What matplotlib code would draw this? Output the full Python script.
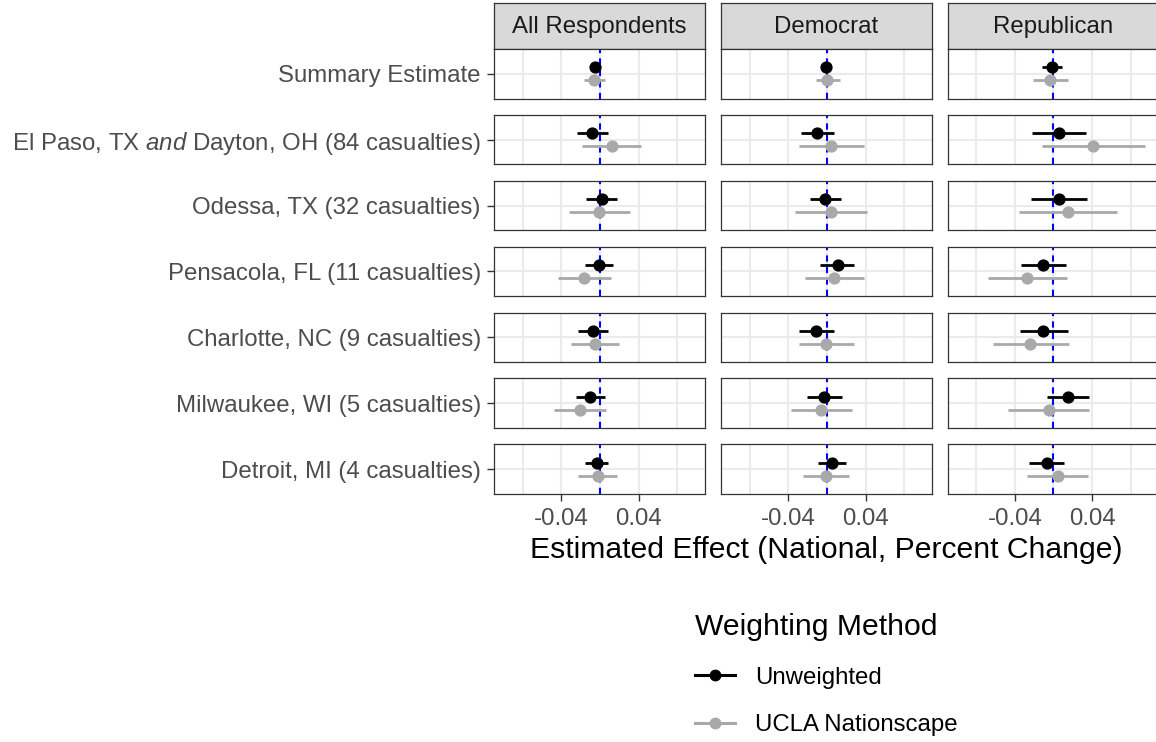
import matplotlib
matplotlib.use("Agg")
import matplotlib.pyplot as plt
from matplotlib.lines import Line2D

plt.rcParams['font.family'] = ['Liberation Sans', 'DejaVu Sans']
plt.rcParams['mathtext.fontset'] = 'custom'
plt.rcParams['mathtext.rm'] = 'Liberation Sans'
plt.rcParams['mathtext.it'] = 'Liberation Sans:italic'

# events (rows), top to bottom
events = ['Summary Estimate',
          r'El Paso, TX $\mathit{and}$ Dayton, OH (84 casualties)',
          'Odessa, TX (32 casualties)',
          'Pensacola, FL (11 casualties)',
          'Charlotte, NC (9 casualties)',
          'Milwaukee, WI (5 casualties)',
          'Detroit, MI (4 casualties)']
groups = ['All Respondents', 'Democrat', 'Republican']
methods = ['Unweighted', 'UCLA Nationscape']

# All Respondents
all_unw_est = [-0.005, -0.008, 0.002, -0.001, -0.007, -0.010, -0.0035]
all_unw_lo = [-0.007, -0.024, -0.015, -0.016, -0.023, -0.025, -0.0155]
all_unw_hi = [-0.003, 0.008, 0.018, 0.014, 0.008, 0.005, 0.008]
all_ucla_est = [-0.006, 0.012, -0.001, -0.017, -0.005, -0.021, -0.002]
all_ucla_lo = [-0.017, -0.019, -0.032, -0.044, -0.030, -0.048, -0.023]
all_ucla_hi = [0.005, 0.043, 0.031, 0.011, 0.020, 0.006, 0.018]

# Democrat
dem_unw_est = [-0.001, -0.010, -0.002, 0.011, -0.011, -0.003, 0.005]
dem_unw_lo = [-0.003, -0.027, -0.018, -0.007, -0.029, -0.021, -0.009]
dem_unw_hi = [0.001, 0.007, 0.015, 0.028, 0.007, 0.016, 0.020]
dem_ucla_est = [0.0004, 0.004, 0.004, 0.007, -0.001, -0.006, -0.001]
dem_ucla_lo = [-0.0115, -0.029, -0.033, -0.0225, -0.029, -0.037, -0.025]
dem_ucla_hi = [0.013, 0.038, 0.042, 0.038, 0.028, 0.026, 0.023]

# Republican
rep_unw_est = [-0.0014, 0.0062, 0.0057, -0.0106, -0.0106, 0.0146, -0.0071]
rep_unw_lo = [-0.0118, -0.0218, -0.023, -0.034, -0.035, -0.007, -0.025]
rep_unw_hi = [0.0087, 0.034, 0.035, 0.013, 0.015, 0.037, 0.011]
rep_ucla_est = [-0.0035, 0.0412, 0.0146, -0.027, -0.024, -0.005, 0.0044]
rep_ucla_lo = [-0.0208, -0.0121, -0.036, -0.068, -0.063, -0.047, -0.027]
rep_ucla_hi = [0.0146, 0.0946, 0.066, 0.014, 0.016, 0.037, 0.036]

series = {
    'All Respondents': [(all_unw_est, all_unw_lo, all_unw_hi), (all_ucla_est, all_ucla_lo, all_ucla_hi)],
    'Democrat': [(dem_unw_est, dem_unw_lo, dem_unw_hi), (dem_ucla_est, dem_ucla_lo, dem_ucla_hi)],
    'Republican': [(rep_unw_est, rep_unw_lo, rep_unw_hi), (rep_ucla_est, rep_ucla_lo, rep_ucla_hi)],
}

colors = ['black', '#A9A9A9']
dodge = [0.37, 0.63]   # vertical position inside each panel (0 = top)
xticks = [-0.04, 0.04]
grid_x = [-0.08, -0.04, 0, 0.04, 0.08]

W, H = 1156, 742
fig = plt.figure(figsize=(W / 100, H / 100), dpi=100)


def rect(left, top, w, h):
    return [left / W, 1 - (top + h) / H, w / W, h / H]


col_left = [494, 721, 947.5]
panel_w = 211
row_top0 = 49
row_step = 65.9
row_h = 49.5
edge = '#333333'
fs = 17.3

for j, g in enumerate(groups):
    # strip on top of each column
    sax = fig.add_axes(rect(col_left[j], 3, panel_w, row_top0 - 3))
    sax.set_facecolor('#D9D9D9')
    sax.set_xticks([])
    sax.set_yticks([])
    for s in sax.spines.values():
        s.set_color(edge)
        s.set_linewidth(0.9)
    sax.text(0.5, 0.47, g, ha='center', va='center', fontsize=fs,
             color='#1A1A1A', transform=sax.transAxes)

    for i, ev in enumerate(events):
        ax = fig.add_axes(rect(col_left[j], row_top0 + i * row_step, panel_w, row_h))
        ax.set_xlim(-0.11, 0.109)
        ax.set_ylim(1, 0)
        for gx in grid_x:
            ax.axvline(gx, color='#EBEBEB', lw=1.5, zorder=0)
        ax.axhline(0.5, color='#EBEBEB', lw=1.5, zorder=0)
        ax.axvline(0, color='blue', lw=1.5, ls=(0, (3, 2.5)), zorder=1)
        for k in range(2):
            est, lo, hi = series[g][k]
            ax.errorbar([est[i]], [dodge[k]],
                        xerr=[[est[i] - lo[i]], [hi[i] - est[i]]],
                        fmt='o', color=colors[k], ms=7.8, elinewidth=2.0,
                        capsize=0, zorder=3)
        for s in ax.spines.values():
            s.set_color(edge)
            s.set_linewidth(0.9)
        ax.tick_params(colors=edge, length=5, width=1.0, labelcolor='#4D4D4D',
                       labelsize=fs)
        if j == 0:
            ax.set_yticks([0.5])
            ax.set_yticklabels([ev])
            ax.tick_params(axis='y', pad=4.5)
        else:
            ax.set_yticks([])
        if i == len(events) - 1:
            ax.set_xticks(xticks)
            ax.set_xticklabels(['-0.04', '0.04'])
            ax.tick_params(axis='x', pad=5.5)
        else:
            ax.set_xticks([])

fig.text(826.5 / W, 1 - 550 / H, 'Estimated Effect (National, Percent Change)',
         ha='center', va='center', fontsize=21.7, color='black')

handles = [Line2D([], [], color=c, marker='o', ms=7.5, lw=2.2) for c in colors]
leg = fig.legend(handles, methods, loc='upper left',
                 bbox_to_anchor=(695 / W, 1 - 613 / H), frameon=False,
                 fontsize=fs, title='Weighting Method', title_fontsize=21.7,
                 alignment='left', handlelength=1.67, handletextpad=0.83,
                 labelspacing=1.07, borderpad=0, borderaxespad=0)

fig.savefig('out.png', dpi=100)
